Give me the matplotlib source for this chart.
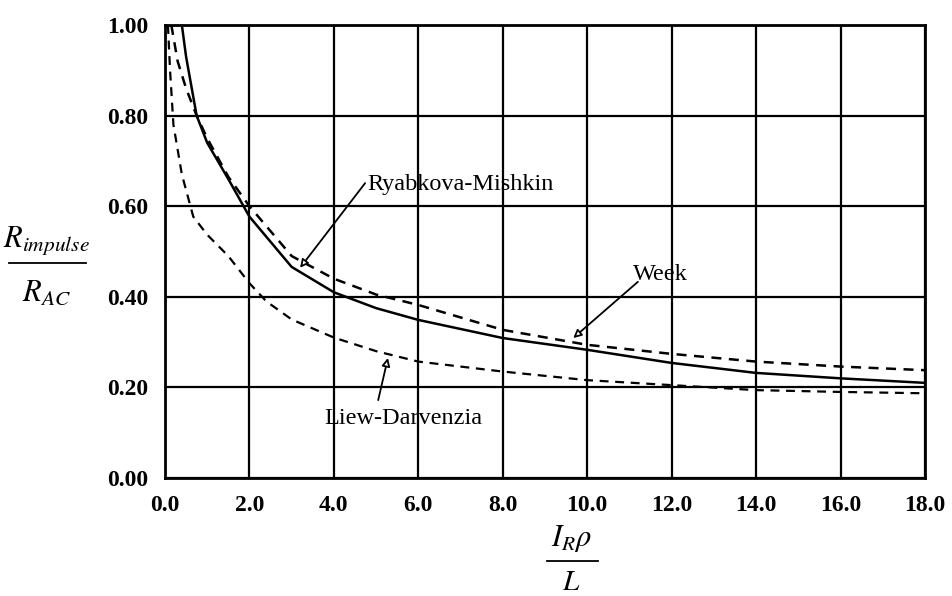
import matplotlib.pyplot as plt
from matplotlib.lines import Line2D

plt.rcParams["mathtext.fontset"] = "stix"
plt.rcParams["font.family"] = ["Liberation Serif", "DejaVu Serif"]

# Ryabkova-Mishkin (solid)
rm_x = [0.4, 0.5, 0.75, 1.0, 1.5, 2.0, 3.0, 4.0, 5.0, 6.0, 8.0, 10.0, 12.0, 14.0, 16.0, 18.0]
rm_y = [1.0, 0.93, 0.80, 0.74, 0.66, 0.577, 0.466, 0.41, 0.375, 0.349, 0.309, 0.283, 0.254, 0.232, 0.22, 0.21]

# Week (dashed)
wk_x = [0.15, 0.3, 0.5, 0.75, 1.0, 1.5, 2.0, 3.0, 4.0, 5.0, 6.0, 8.0, 10.0, 12.0, 14.0, 16.0, 18.0]
wk_y = [1.0, 0.92, 0.86, 0.80, 0.75, 0.665, 0.60, 0.49, 0.44, 0.405, 0.382, 0.327, 0.294, 0.274, 0.257, 0.246, 0.238]

# Liew-Darvenzia (dashed)
ld_x = [0.07, 0.12, 0.2, 0.4, 0.67, 1.0, 1.5, 2.0, 2.4, 3.0, 4.0, 5.0, 6.0, 8.0, 10.0, 12.0, 14.0, 16.0, 18.0]
ld_y = [1.0, 0.9, 0.78, 0.67, 0.577, 0.537, 0.49, 0.43, 0.39, 0.35, 0.31, 0.28, 0.257, 0.235, 0.216, 0.205, 0.194, 0.19, 0.187]

x_ticks = [0, 2, 4, 6, 8, 10, 12, 14, 16, 18]
y_ticks = [0.0, 0.2, 0.4, 0.6, 0.8, 1.0]

fig = plt.figure(figsize=(9.52, 5.96), dpi=100)
ax = fig.add_axes([0.1733, 0.198, 0.7983, 0.760])

ax.plot(rm_x, rm_y, color="black", lw=1.8, solid_capstyle="butt")
ax.plot(wk_x, wk_y, color="black", lw=1.8, dashes=(4, 3))
ax.plot(ld_x, ld_y, color="black", lw=1.6, dashes=(4, 3))

ax.set_xlim(0, 18)
ax.set_ylim(0, 1.0)
ax.set_xticks(x_ticks)
ax.set_yticks(y_ticks)
ax.set_xticklabels(["%.1f" % v for v in x_ticks])
ax.set_yticklabels(["%.2f" % v for v in y_ticks])
ax.tick_params(length=0, labelsize=17, pad=12)
for lab in ax.get_xticklabels() + ax.get_yticklabels():
    lab.set_fontweight("bold")
ax.grid(True, color="black", lw=1.6)
for s in ax.spines.values():
    s.set_linewidth(2.0)

arrow = dict(arrowstyle="-|>", fc="white", ec="black", lw=1.3, mutation_scale=12, shrinkA=0, shrinkB=0)

ax.text(4.8, 0.647, "Ryabkova-Mishkin", fontsize=17.5, ha="left", va="center")
ax.annotate("", xy=(3.2, 0.464), xytext=(4.74, 0.651), arrowprops=arrow)

ax.text(11.09, 0.45, "Week", fontsize=17.5, ha="left", va="center")
ax.annotate("", xy=(9.67, 0.309), xytext=(11.2, 0.433), arrowprops=arrow)

ax.text(5.64, 0.132, "Liew-Darvenzia", fontsize=17.5, ha="center", va="center")
ax.annotate("", xy=(5.28, 0.265), xytext=(5.05, 0.172), arrowprops=arrow)

# y axis label as a stacked fraction
fig.text(0.049, 0.568, r"$R_{impulse}$", fontsize=22, ha="center", va="bottom")
fig.add_artist(Line2D([0.009, 0.090], [0.559, 0.559], color="black", lw=1.3))
fig.text(0.049, 0.533, r"$R_{AC}$", fontsize=22, ha="center", va="top")

# x axis label
fig.text(0.600, 0.070, r"$I_{R}\rho$", fontsize=22, ha="center", va="bottom")
fig.add_artist(Line2D([0.575, 0.628], [0.059, 0.059], color="black", lw=1.3))
fig.text(0.600, 0.010, r"$L$", fontsize=21, ha="center", va="baseline")

fig.savefig("out.png", dpi=100)
